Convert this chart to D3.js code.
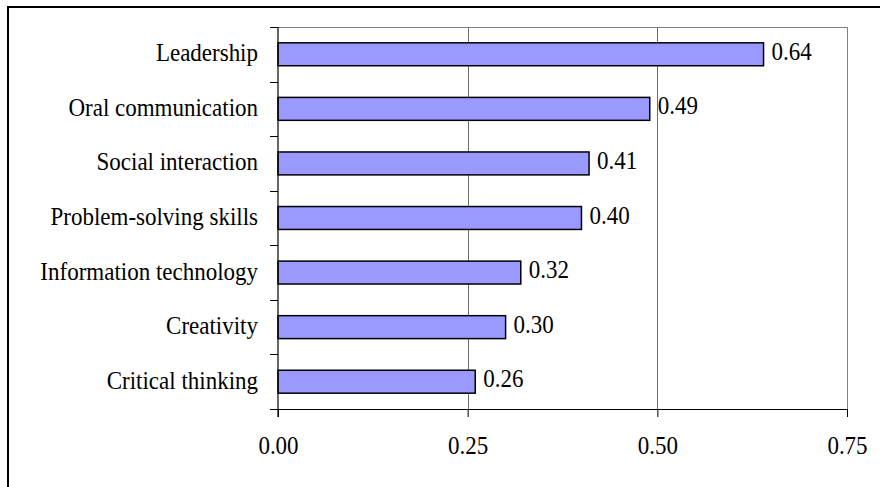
<!DOCTYPE html>
<html>
<head>
<meta charset="utf-8">
<script src="https://cdn.jsdelivr.net/npm/d3@7"></script>
<style>
  html, body { margin: 0; padding: 0; background: #fff; }
  svg { display: block; }
  svg text { font-family: "Liberation Serif", "DejaVu Serif", serif !important; fill: #000; }
</style>
</head>
<body>
<svg id="chart" width="880" height="487"></svg>
<script>
// Skill categories, top to bottom
const categories = [
  "Leadership",
  "Oral communication",
  "Social interaction",
  "Problem-solving skills",
  "Information technology",
  "Creativity",
  "Critical thinking"
];
// Score per skill
const values = [0.64, 0.49, 0.41, 0.40, 0.32, 0.30, 0.26];
// X axis ticks
const xTicks = [0, 0.25, 0.5, 0.75];

const FONT = "'Liberation Serif', 'DejaVu Serif', serif";
const STRETCH = 1.1; // slightly tall glyphs
const svg = d3.select("#chart");
const plot = { left: 278, right: 847, top: 27, bottom: 409 };

const x = d3.scaleLinear().domain([0, 0.75]).range([plot.left, plot.right]);
const y = d3.scaleBand()
  .domain(categories)
  .range([plot.top, plot.bottom])
  .paddingInner(0.58)
  .paddingOuter(0.29);

const place = (px, py) => `translate(${px},${py}) scale(1,${STRETCH})`;

// Outer frame (left and top edges)
svg.append("path")
  .attr("d", "M8,487 V7 H880")
  .attr("fill", "none")
  .attr("stroke", "#000")
  .attr("stroke-width", 2);

// Plot area border (top and right)
svg.append("path")
  .attr("d", `M${plot.left},${plot.top + 0.5} H${plot.right + 0.5} V${plot.bottom}`)
  .attr("fill", "none")
  .attr("stroke", "#808080")
  .attr("stroke-width", 1);

// Vertical gridlines
svg.append("g")
  .selectAll("line")
  .data(xTicks.filter(t => t > 0 && t < 0.75))
  .join("line")
  .attr("x1", d => Math.round(x(d)) + 0.5)
  .attr("x2", d => Math.round(x(d)) + 0.5)
  .attr("y1", plot.top)
  .attr("y2", plot.bottom)
  .attr("stroke", "#6e6e6e")
  .attr("stroke-width", 1);

// Bars
svg.append("g")
  .selectAll("rect")
  .data(categories)
  .join("rect")
  .attr("x", x(0))
  .attr("y", d => y(d))
  .attr("width", (d, i) => x(values[i]) - x(0))
  .attr("height", y.bandwidth())
  .attr("fill", "#9999ff")
  .attr("stroke", "#000")
  .attr("stroke-width", 1.5);

// Value labels
svg.append("g")
  .selectAll("text")
  .data(categories)
  .join("text")
  .attr("transform", (d, i) => place(x(values[i]) + 8, y(d) + y.bandwidth() / 2 + 5.5))
  .style("font-family", FONT)
  .style("font-size", "23px")
  .text((d, i) => d3.format(".2f")(values[i]));

// X axis
const xAxis = d3.axisBottom(x)
  .tickValues(xTicks)
  .tickFormat(d3.format(".2f"))
  .tickSize(8)
  .tickSizeOuter(0);
const gx = svg.append("g")
  .attr("transform", `translate(0,${plot.bottom})`)
  .call(xAxis)
  .attr("font-family", null)
  .attr("font-size", null);
gx.select(".domain").attr("stroke", "#000").attr("stroke-width", 1.2);
gx.selectAll(".tick line").attr("stroke", "#000");
gx.selectAll(".tick text")
  .style("font-family", FONT)
  .style("font-size", "23px")
  .attr("fill", "#000")
  .attr("dy", null)
  .attr("y", null)
  .attr("transform", place(0, 44.5));

// Y axis: category boundary ticks, labels centred on each band
svg.append("line")
  .attr("x1", plot.left).attr("x2", plot.left)
  .attr("y1", plot.top).attr("y2", plot.bottom + 8)
  .attr("stroke", "#000").attr("stroke-width", 1.2);

const step = y.step();
const bounds = d3.range(categories.length + 1).map(i => plot.top + i * step);
svg.append("g")
  .selectAll("line")
  .data(bounds)
  .join("line")
  .attr("x1", plot.left - 8)
  .attr("x2", plot.left)
  .attr("y1", d => Math.round(d) + 0.5)
  .attr("y2", d => Math.round(d) + 0.5)
  .attr("stroke", "#000");

svg.append("g")
  .selectAll("text")
  .data(categories)
  .join("text")
  .attr("transform", d => place(plot.left - 20, y(d) + y.bandwidth() / 2 + 7))
  .attr("text-anchor", "end")
  .style("font-family", FONT)
  .style("font-size", "23px")
  .text(d => d);
</script>
</body>
</html>
